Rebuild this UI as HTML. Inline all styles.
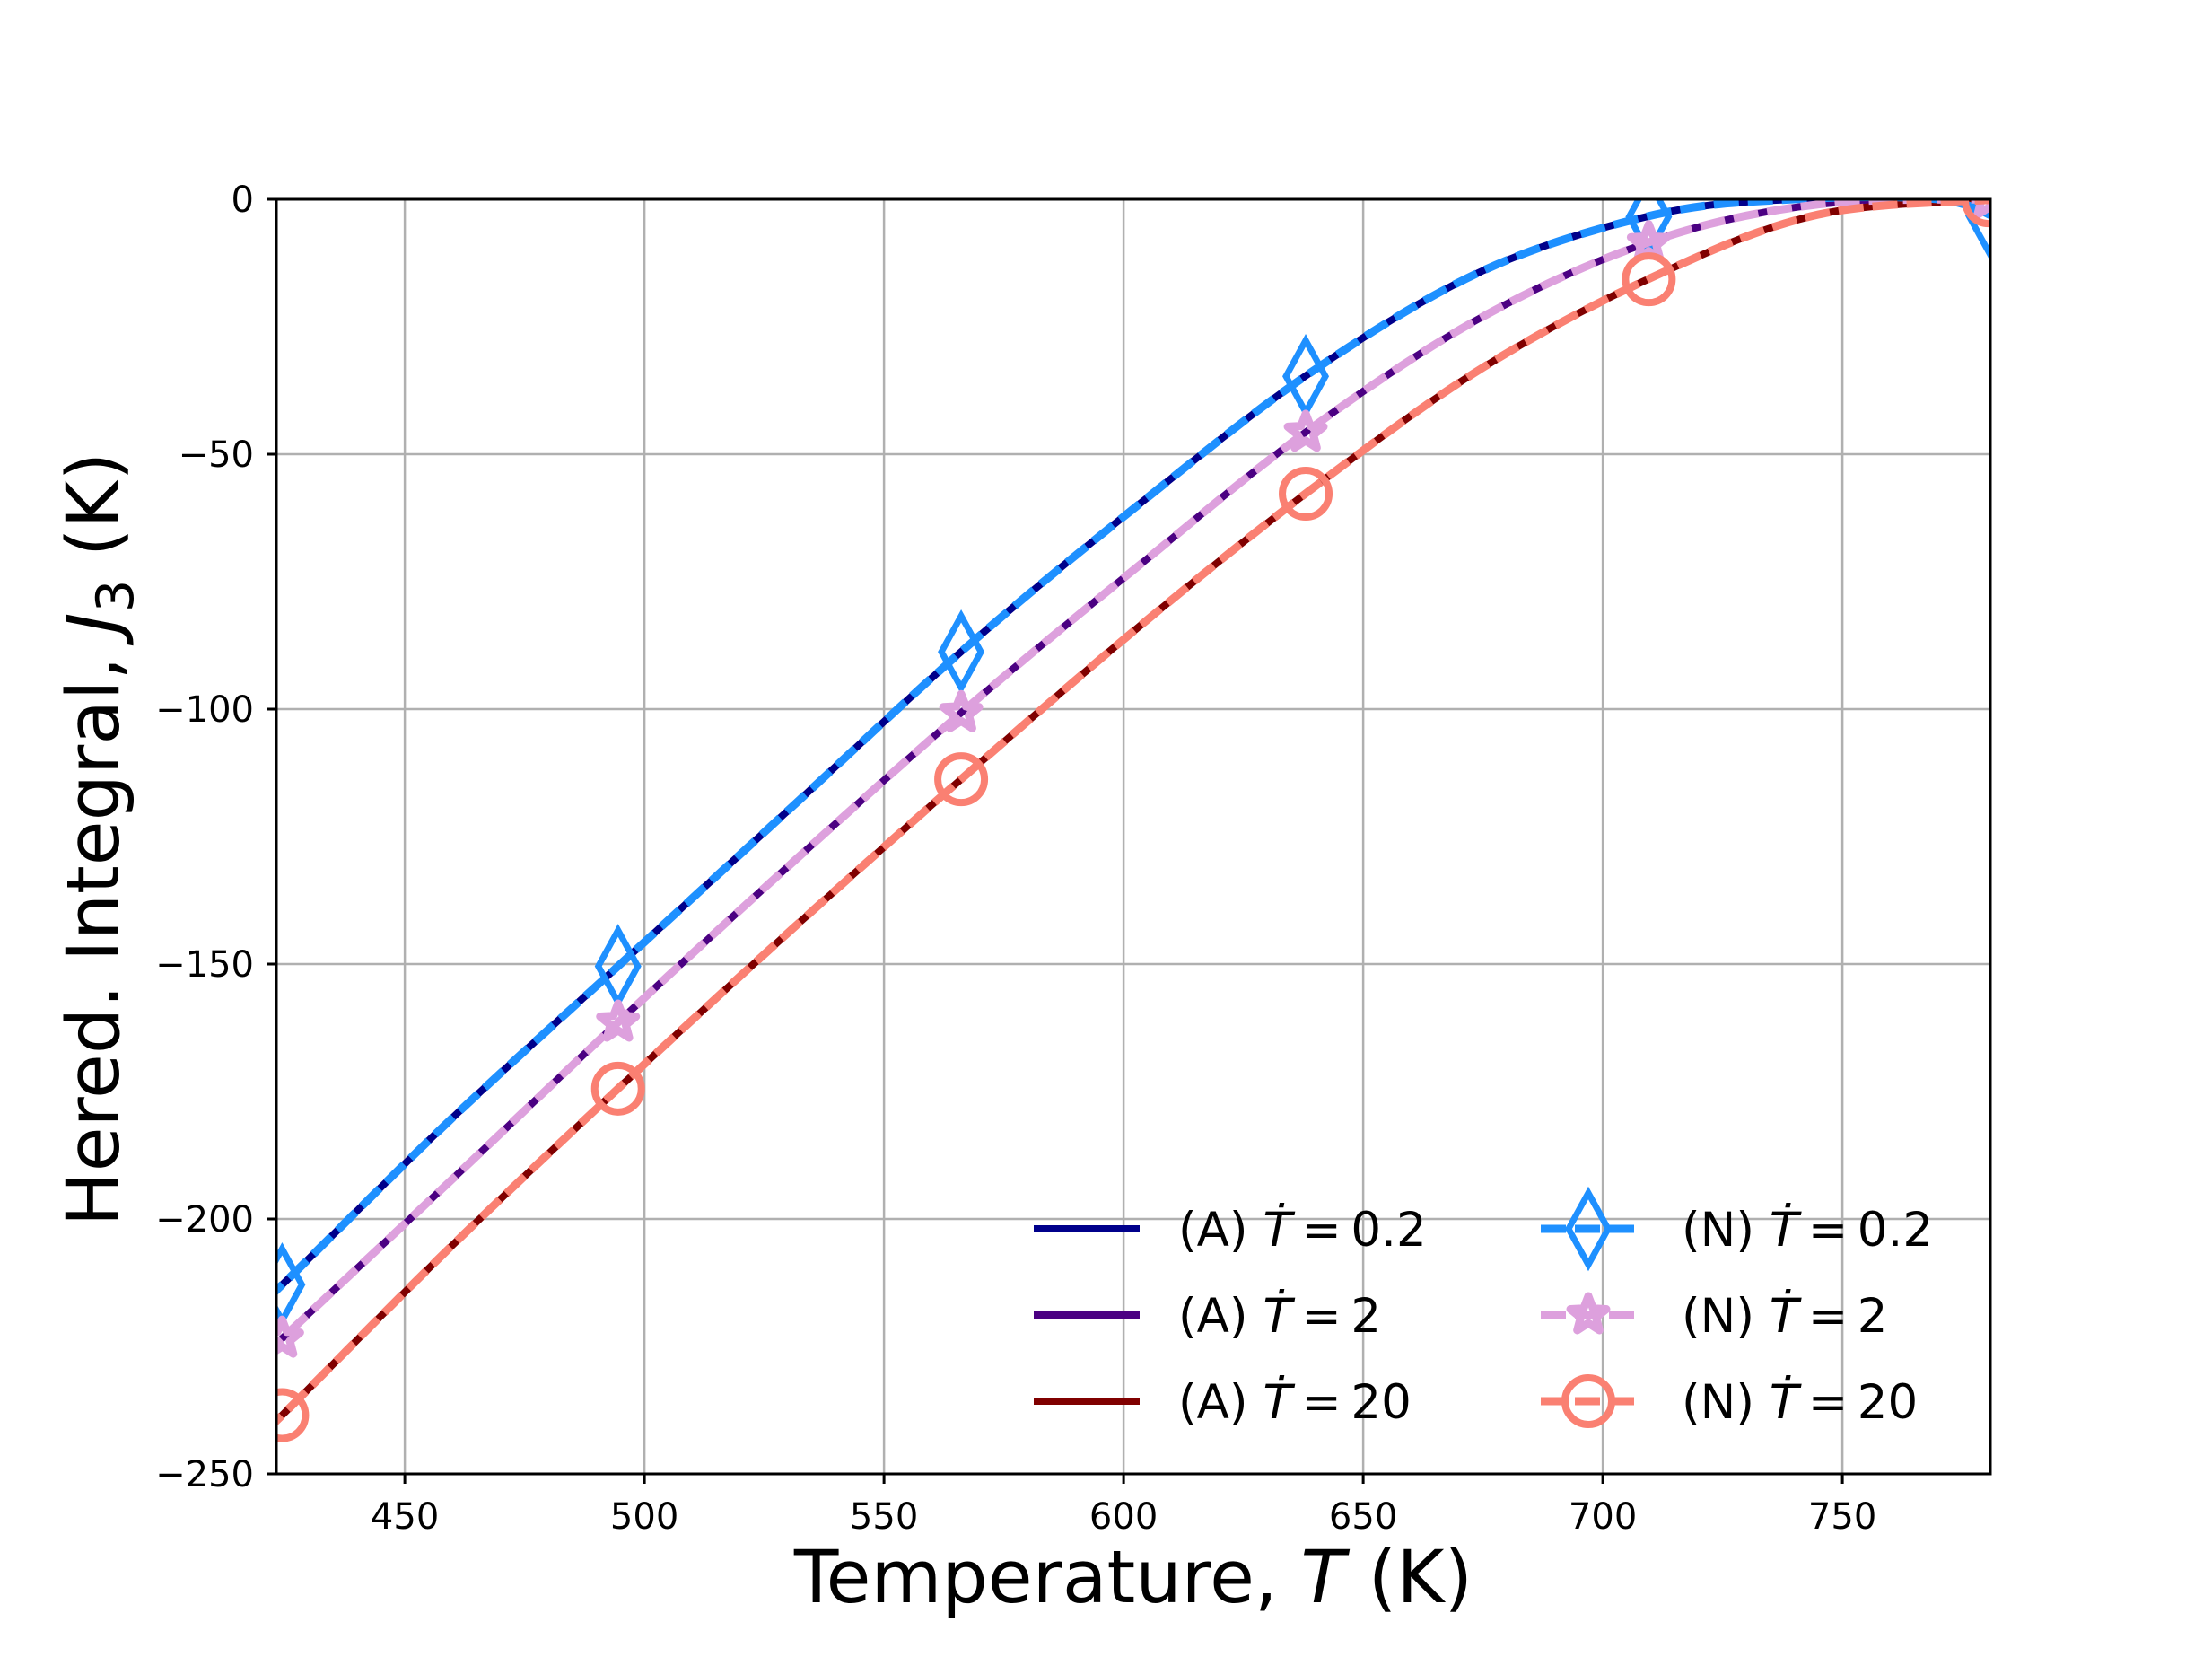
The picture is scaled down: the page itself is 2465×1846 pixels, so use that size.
<!DOCTYPE html>
<html><head><meta charset="utf-8"><style>
html,body{margin:0;padding:0;background:#fff;}
svg{display:block;font-family:"DejaVu Sans","Liberation Sans",sans-serif;}
</style></head><body>
<svg id="s" width="2465" height="1846" viewBox="0 0 2465 1846" xmlns="http://www.w3.org/2000/svg">
<rect width="2465" height="1846" fill="#fff"/>
<defs><clipPath id="c"><rect x="308" y="222" width="1910" height="1420"/></clipPath></defs>
<g id="grid" stroke="#b0b0b0" stroke-width="2.5"></g>
<g id="curves" clip-path="url(#c)"></g>
<rect x="308" y="222" width="1910" height="1420" fill="none" stroke="#000" stroke-width="3"/>
<g id="ticks" stroke="#000" stroke-width="3"></g>
<g id="tl" font-size="40" fill="#000"></g>
<text x="1263" y="1785" font-size="81" text-anchor="middle">Temperature, <tspan font-style="italic">T</tspan> (K)</text>
<text transform="translate(132,935) rotate(-90)" font-size="81" text-anchor="middle">Hered. Integral, <tspan font-style="italic">J</tspan><tspan font-size="57" dy="16">3</tspan><tspan dy="-16"> (K)</tspan></text>
<g id="leg" font-size="53"></g>
</svg>
<script>
const NS="http://www.w3.org/2000/svg";
const X=t=>308+(t-423.2)/50*267, Y=j=>222-j*5.68;
function el(p,tag,a,txt){const e=document.createElementNS(NS,tag);for(const k in a)e.setAttribute(k,a[k]);if(txt!==undefined)e.innerHTML=txt;p.appendChild(e);return e;}
const g=document.getElementById('grid'),tk=document.getElementById('ticks'),tl=document.getElementById('tl');
for(let t=450;t<=750;t+=50){el(g,'line',{x1:X(t),x2:X(t),y1:222,y2:1642});el(tk,'line',{x1:X(t),x2:X(t),y1:1642,y2:1653});el(tl,'text',{x:X(t),y:1703,'text-anchor':'middle'},t);}
for(let j=0;j>=-250;j-=50){el(g,'line',{x1:308,x2:2218,y1:Y(j),y2:Y(j)});el(tk,'line',{x1:297,x2:308,y1:Y(j),y2:Y(j)});el(tl,'text',{x:283,y:Y(j)+14,'text-anchor':'end'},j==0?'0':'\u2212'+(-j));}
const D={
b:[[410,-225],[423.2,-214],[459,-181],[495,-150],[531,-119],[567,-88],[603,-60],[639,-34],[675,-14],[711,-3],[740,0],[770,0],[783,-4]],
p:[[410,-236],[423.2,-224.5],[459,-193],[495,-161],[531,-130],[567,-100],[603,-72],[639,-45],[675,-23],[711,-8],[745,-1],[783,0]],
r:[[410,-251],[423.2,-239.6],[459,-206],[495,-174],[531,-143],[567,-113],[603,-84],[639,-57],[675,-33],[711,-15],[745,-3],[783,0]]};
function path(pts){const P=pts.map(p=>[X(p[0]),Y(p[1])]);let d='M'+P[0];for(let i=0;i<P.length-1;i++){const p0=P[Math.max(0,i-1)],p1=P[i],p2=P[i+1],p3=P[Math.min(P.length-1,i+2)];const c1=[p1[0]+(p2[0]-p0[0])/6,p1[1]+(p2[1]-p0[1])/6],c2=[p2[0]-(p3[0]-p1[0])/6,p2[1]-(p3[1]-p1[1])/6];d+='C'+c1+' '+c2+' '+p2;}return d;}
function interp(pts,t){for(let i=0;i<pts.length-1;i++){if(t>=pts[i][0]&&t<=pts[i+1][0]){const f=(t-pts[i][0])/(pts[i+1][0]-pts[i][0]);return pts[i][1]+f*(pts[i+1][1]-pts[i][1]);}}return pts[pts.length-1][1];}
const cv=document.getElementById('curves');
const S={b:['#00008b','#1e90ff','d'],p:['#4b0082','#dda0dd','s'],r:['#800000','#fa8072','o']};
function marker(p,type,col,cx,cy){
 if(type=='d')el(p,'path',{d:`M${cx},${cy-40}L${cx+22},${cy}L${cx},${cy+40}L${cx-22},${cy}Z`,fill:'none',stroke:col,'stroke-width':7});
 else if(type=='o')el(p,'circle',{cx,cy,r:26,fill:'none',stroke:col,'stroke-width':8});
 else{let d='';for(let i=0;i<10;i++){const a=-Math.PI/2+i*Math.PI/5,r=i%2?9:21;d+=(i?'L':'M')+(cx+r*Math.cos(a))+','+(cy+r*Math.sin(a));}el(p,'path',{d:d+'Z',fill:'none',stroke:col,'stroke-width':9,'stroke-linejoin':'round'});}
}
const MT=[424.4,494.5,566.1,638,709.6,780.5];
for(const k of ['b','p','r'])el(cv,'path',{d:path(D[k]),fill:'none',stroke:S[k][0],'stroke-width':8});
for(const k of ['b','p','r']){el(cv,'path',{d:path(D[k]),fill:'none',stroke:S[k][1],'stroke-width':9,'stroke-dasharray':'28 10'});
 for(const t of MT){marker(cv,S[k][2],S[k][1],X(t),Y(interp(D[k],t)));}}
const lg=document.getElementById('leg');
const Td='<tspan font-style="italic">T&#x307;</tspan>';
const labs=['0.2','2','20'],ys=[1369,1465,1561],ks=['b','p','r'];
for(let i=0;i<3;i++){const y=ys[i],k=ks[i];
 el(lg,'line',{x1:1152,x2:1270,y1:y,y2:y,stroke:S[k][0],'stroke-width':8});
 el(lg,'text',{x:1313,y:y+19},'(A) '+Td+'\u2009=\u2009'+labs[i]);
 el(lg,'line',{x1:1717,x2:1824,y1:y,y2:y,stroke:S[k][1],'stroke-width':9,'stroke-dasharray':'28 10'});
 marker(lg,S[k][2],S[k][1],1770,y);
 el(lg,'text',{x:1874,y:y+19},'(N) '+Td+'\u2009=\u2009'+labs[i]);}
</script>
</body></html>
